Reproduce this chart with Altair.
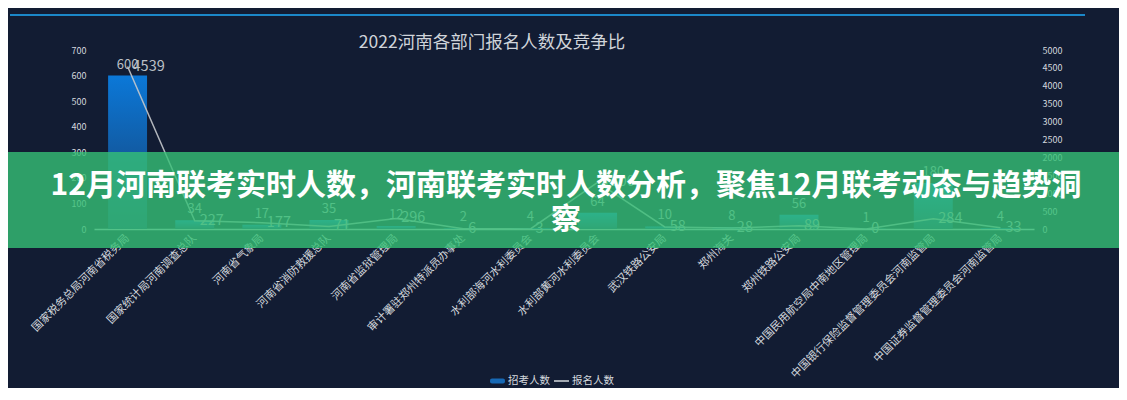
import altair as alt
import pandas as pd

# ---------------- data ----------------
categories = [
    "国家税务总局河南省税务局",
    "国家统计局河南调查总队",
    "河南省气象局",
    "河南省消防救援总队",
    "河南省监狱管理局",
    "审计署驻郑州特派员办事处",
    "水利部海河水利委员会",
    "水利部黄河水利委员会",
    "武汉铁路公安局",
    "郑州海关",
    "郑州铁路公安局",
    "中国民用航空局中南地区管理局",
    "中国银行保险监督管理委员会河南监管局",
    "中国证券监督管理委员会河南监管局",
]
recruit = [600, 34, 17, 35, 12, 2, 4, 64, 10, 8, 56, 1, 180, 4]          # 招考人数
applicants = [4539, 227, 177, 71, 296, 6, 3, 1300, 58, 28, 89, 0, 284, 33]  # 报名人数
left_ticks = [0, 100, 200, 300, 400, 500, 600, 700]
right_ticks = [0, 500, 1000, 1500, 2000, 2500, 3000, 3500, 4000, 4500, 5000]
legend_labels = ["招考人数", "报名人数"]
title_text = "2022河南各部门报名人数及竞争比"
banner_lines = ["12月河南联考实时人数，河南联考实时人数分析，聚焦12月联考动态与趋势洞", "察"]

df = pd.DataFrame({"dept": categories, "recruit": recruit, "applicants": applicants})
one = pd.DataFrame({"k": [0]})

FONT = "Noto Sans CJK SC"
BG = "#121c33"
LABEL = "#d4d8de"

x_enc = alt.X(
    "dept:N", sort=categories,
    scale=alt.Scale(paddingInner=0.42, paddingOuter=0.21),
    axis=alt.Axis(title=None, labelAngle=-45, labelAlign="right", labelBaseline="middle",
                  labelColor=LABEL, labelFontSize=11, labelFont=FONT, labelPadding=7,
                  labelLimit=500, labelOverlap=False, ticks=False, domainColor="#c8ccd4",
                  domainWidth=1.5, grid=False),
)

bar_grad = alt.Gradient(
    gradient="linear",
    stops=[alt.GradientStop(color="#0b78d8", offset=0),
           alt.GradientStop(color="#183f70", offset=1)],
    x1=0, x2=0, y1=0, y2=1,
)

y_left = alt.Scale(domain=[0, 700])
y_right = alt.Scale(domain=[0, 5000])

bars = alt.Chart(df).mark_bar(color=bar_grad).encode(
    x=x_enc,
    y=alt.Y("recruit:Q", scale=y_left,
            axis=alt.Axis(title=None, orient="left", values=left_ticks, format="d", grid=False,
                          domain=False, ticks=False, labelColor=LABEL, labelFontSize=9,
                          labelFont=FONT, labelPadding=8)),
)
bar_labels = alt.Chart(df).mark_text(
    font=FONT, fontSize=13, color="#bcc0c6", baseline="bottom", dy=-4
).encode(
    x=x_enc,
    y=alt.Y("recruit:Q", scale=y_left, axis=None),
    text="recruit:Q",
)

line = alt.Chart(df).mark_line(color="#c4c8cc", strokeWidth=1.5, opacity=0.9).encode(
    x=x_enc,
    y=alt.Y("applicants:Q", scale=y_right,
            axis=alt.Axis(title=None, orient="right", values=right_ticks, format="d", grid=False,
                          domain=False, ticks=False, labelColor=LABEL, labelFontSize=9,
                          labelFont=FONT, labelPadding=8)),
)
line_labels = alt.Chart(df).mark_text(
    font=FONT, fontSize=14.5, color="#bcc0c6", align="left", baseline="middle", dx=5
).encode(
    x=x_enc,
    y=alt.Y("applicants:Q", scale=y_right, axis=None),
    text="applicants:Q",
)

# ---------------- decorations ----------------
top_line = alt.Chart(one).mark_rule(color="#1b87c9", strokeWidth=2).encode(
    x=alt.value(-84), x2=alt.value(991), y=alt.value(-35))

title = alt.Chart(one).mark_text(
    font=FONT, fontSize=17.5, color="#d0d4da", align="center", baseline="middle"
).encode(x=alt.value(398), y=alt.value(-7), text=alt.value(title_text))

LEG_Y = 331
legend_swatch = alt.Chart(one).mark_rect(color="#1769b5", cornerRadius=2).encode(
    x=alt.value(396), x2=alt.value(411), y=alt.value(LEG_Y - 2.5), y2=alt.value(LEG_Y + 2.5))
legend_t1 = alt.Chart(one).mark_text(
    font=FONT, fontSize=10.5, color=LABEL, align="left", baseline="middle"
).encode(x=alt.value(414), y=alt.value(LEG_Y), text=alt.value(legend_labels[0]))
legend_rule = alt.Chart(one).mark_rule(color=LABEL, strokeWidth=1.5).encode(
    x=alt.value(460), x2=alt.value(475), y=alt.value(LEG_Y))
legend_t2 = alt.Chart(one).mark_text(
    font=FONT, fontSize=10.5, color=LABEL, align="left", baseline="middle"
).encode(x=alt.value(478), y=alt.value(LEG_Y), text=alt.value(legend_labels[1]))

banner = alt.Chart(one).mark_rect(color="rgb(54,193,117)", opacity=0.8).encode(
    x=alt.value(-86), x2=alt.value(1025), y=alt.value(102), y2=alt.value(198))
banner_t1 = alt.Chart(one).mark_text(
    font=FONT, fontSize=30, fontWeight="bold", color="white", align="center", baseline="middle"
).encode(x=alt.value(472), y=alt.value(136), text=alt.value(banner_lines[0]))
banner_t2 = alt.Chart(one).mark_text(
    font=FONT, fontSize=30, fontWeight="bold", color="white", align="center", baseline="middle"
).encode(x=alt.value(472), y=alt.value(170), text=alt.value(banner_lines[1]))

chart = alt.layer(
    bars, bar_labels, line, line_labels,
    top_line, title, legend_swatch, legend_t1, legend_rule, legend_t2,
    banner, banner_t1, banner_t2,
).resolve_scale(y="independent").properties(
    width=940, height=179,
    autosize=alt.AutoSizeParams(type="none"),
    padding={"left": 86, "top": 42, "right": 85, "bottom": 159},
    background=BG,
).configure_view(stroke=None)

chart.save("out.html", embed_options={"renderer": "svg", "actions": False})
